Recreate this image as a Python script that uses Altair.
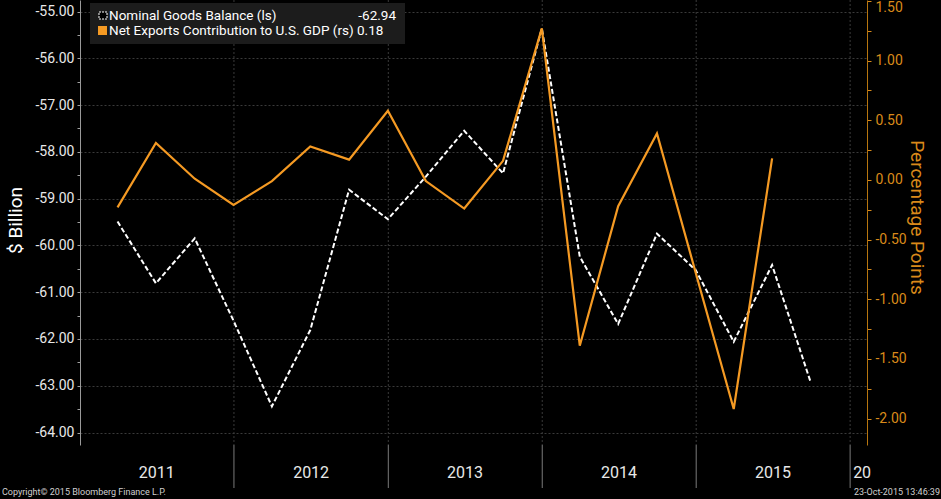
import altair as alt
import pandas as pd

# ---------------- data ----------------
quarters = ["2011-03-31", "2011-06-30", "2011-09-30", "2011-12-31",
            "2012-03-31", "2012-06-30", "2012-09-30", "2012-12-31",
            "2013-03-31", "2013-06-30", "2013-09-30", "2013-12-31",
            "2014-03-31", "2014-06-30", "2014-09-30", "2014-12-31",
            "2015-03-31", "2015-06-30", "2015-09-30"]
goods_balance = [-59.49, -60.81, -59.85, -61.61, -63.44, -61.81, -58.81, -59.44,
                 -58.53, -57.55, -58.46, -55.36, -60.24, -61.68, -59.75, -60.53,
                 -62.06, -60.42, -62.94]
net_exports = [-0.23, 0.31, 0.01, -0.21, -0.01, 0.28, 0.17, 0.58,
               -0.01, -0.24, 0.16, 1.27, -1.39, -0.22, 0.39, -0.78,
               -1.92, 0.18]

year_labels = ["2011", "2012", "2013", "2014", "2015"]
year_mid = ["2011-07-02", "2012-07-02", "2013-07-02", "2014-07-02", "2015-07-02"]
year_bounds = ["2012-01-01", "2013-01-01", "2014-01-01", "2015-01-01", "2016-01-01"]

left_ticks = [-64 + 0.5 * i for i in range(19)]
right_ticks = [-2 + 0.25 * i for i in range(15)]

df_goods = pd.DataFrame({"date": quarters, "value": goods_balance})
df_net = pd.DataFrame({"date": quarters[:len(net_exports)], "value": net_exports})
df_years = pd.DataFrame({"date": year_mid, "label": year_labels})
df_bounds = pd.DataFrame({"date": year_bounds})

FONT = "Roboto"
ORANGE = "#f59a23"
ORANGE_AX = "#d98a1a"
GRID = "#3a3a3a"

xscale = alt.Scale(type="utc", domain=[
    alt.DateTime(year=2011, month=1, date=1, utc=True),
    alt.DateTime(year=2016, month=2, date=10, utc=True)])

x_axis = alt.Axis(labels=False, grid=False, title=None,
                  tickCount={"interval": "month", "step": 3},
                  tickSize=5, tickColor="#8a8a8a", domainColor="#9a9a9a")

# vertical dotted grid at year boundaries
vgrid = alt.Chart(df_bounds).mark_rule(color=GRID, strokeDash=[2, 2], strokeWidth=1).encode(
    x=alt.X("date:T", scale=xscale, axis=None),
    y=alt.value(0), y2=alt.value(445))

# year separators below the axis
seps = alt.Chart(df_bounds).mark_rule(color="#7a7a7a", strokeWidth=1).encode(
    x=alt.X("date:T", scale=xscale, axis=None),
    y=alt.value(445), y2=alt.value(488))

goods = alt.Chart(df_goods).mark_line(color="white", strokeWidth=2, strokeDash=[5, 2.5]).encode(
    x=alt.X("date:T", scale=xscale, axis=x_axis),
    y=alt.Y("value:Q",
            scale=alt.Scale(domain=[-64.267, -54.754], nice=False, zero=False),
            axis=alt.Axis(orient="left", values=left_ticks,
                          labelExpr="datum.value % 1 == 0 ? replace(format(datum.value, '.2f'), '\u2212', '-') : ''",
                          title="$ Billion", titleColor="white", titleFont=FONT,
                          titleFontSize=19, titleFontWeight="normal",
                          titleAngle=-90, titleX=-65, titleY=220,
                          titleAlign="center", titleBaseline="middle",
                          labelColor="#e8e8e8", labelFont=FONT, labelFontSize=14,
                          labelPadding=3, tickSize=3, tickColor="#a0a0a0",
                          domainColor="#9a9a9a",
                          grid=True, gridColor=GRID, gridDash=[2, 2],
                          gridOpacity={"condition": {"test": "datum.value % 1 != 0", "value": 0},
                                       "value": 1})))

net = alt.Chart(df_net).mark_line(color=ORANGE, strokeWidth=2.2).encode(
    x=alt.X("date:T", scale=xscale, axis=None),
    y=alt.Y("value:Q",
            scale=alt.Scale(domain=[-2.222, 1.508], nice=False, zero=False),
            axis=alt.Axis(orient="right", values=right_ticks,
                          labelExpr="(datum.value * 2) % 1 == 0 ? replace(format(datum.value, '.2f'), '\u2212', '-') : ''",
                          labelFlush=3,
                          title="Percentage Points", titleColor=ORANGE_AX, titleFont=FONT,
                          titleFontSize=19, titleFontWeight="normal",
                          titleAngle=90, titleX=49, titleY=217,
                          titleAlign="center", titleBaseline="middle",
                          labelColor=ORANGE_AX, labelFont=FONT, labelFontSize=14,
                          labelPadding=4, tickSize=4, tickColor=ORANGE_AX,
                          domainColor="#b8760f", grid=False)))

years = alt.Chart(df_years).mark_text(color="#e8e8e8", font=FONT, fontSize=16,
                                      baseline="middle", align="center").encode(
    x=alt.X("date:T", scale=xscale, axis=None),
    y=alt.value(473), text="label:N")

year_cut = alt.Chart(pd.DataFrame({"date": ["2016-01-01"], "label": ["2016"]})).mark_text(
    color="#e8e8e8", font=FONT, fontSize=16, baseline="middle", align="left",
    dx=3, limit=20, ellipsis="\u200b").encode(
    x=alt.X("date:T", scale=xscale, axis=None),
    y=alt.value(473), text="label:N")

one = alt.Data(values=[{"a": 1}])

legend_box = alt.Chart(one).mark_rect(color="#1c1c1c").encode(
    x=alt.value(10), x2=alt.value(325), y=alt.value(3), y2=alt.value(44))
legend_m1 = alt.Chart(one).mark_rect(fill="black", stroke="white", strokeWidth=1,
                                     strokeDash=[2, 1]).encode(
    x=alt.value(19), x2=alt.value(27), y=alt.value(12), y2=alt.value(19))
legend_m2 = alt.Chart(one).mark_rect(color=ORANGE).encode(
    x=alt.value(18), x2=alt.value(27), y=alt.value(26), y2=alt.value(35))
legend_t1 = alt.Chart(one).mark_text(color="white", font=FONT, fontSize=13.5,
                                     align="left", baseline="middle").encode(
    x=alt.value(29), y=alt.value(16), text=alt.value("Nominal Goods Balance (ls)"))
legend_v1 = alt.Chart(one).mark_text(color="white", font=FONT, fontSize=13.5,
                                     align="right", baseline="middle").encode(
    x=alt.value(316), y=alt.value(16), text=alt.value("-62.94"))
legend_t2 = alt.Chart(one).mark_text(color="white", font=FONT, fontSize=13.5,
                                     align="left", baseline="middle").encode(
    x=alt.value(29), y=alt.value(31),
    text=alt.value("Net Exports Contribution to U.S. GDP (rs) 0.18"))

foot_l = alt.Chart(one).mark_text(color="#d0d0d0", font=FONT, fontSize=9,
                                  align="left", baseline="middle").encode(
    x=alt.value(-78), y=alt.value(492), text=alt.value("Copyright\u00a9 2015 Bloomberg Finance L.P."))
foot_r = alt.Chart(one).mark_text(color="#d0d0d0", font=FONT, fontSize=9,
                                  align="right", baseline="middle").encode(
    x=alt.value(860), y=alt.value(492), text=alt.value("23-Oct-2015 13:46:39"))

chart = alt.layer(
    vgrid, seps, goods, net, years, year_cut,
    legend_box, legend_m1, legend_m2, legend_t1, legend_v1, legend_t2,
    foot_l, foot_r
).resolve_scale(y="independent").properties(
    width=787, height=445,
    autosize=alt.AutoSizeParams(type="none"),
    padding={"left": 80, "top": 0, "right": 74, "bottom": 54},
    background="black"
).configure_view(stroke=None)

chart.save("out.html", embed_options={"renderer": "svg", "actions": False})
